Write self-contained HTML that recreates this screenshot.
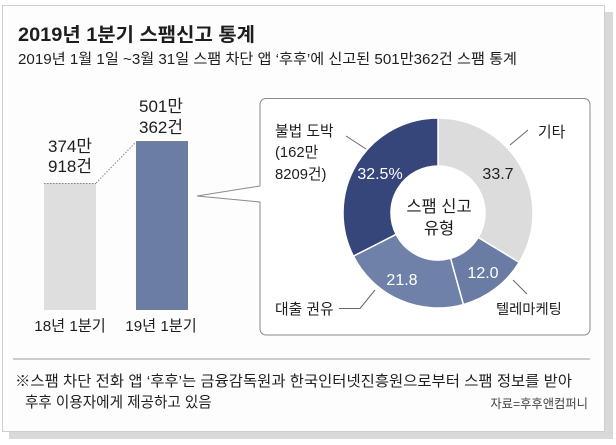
<!DOCTYPE html>
<html><head><meta charset="utf-8">
<style>
html,body{margin:0;padding:0;background:#fff;}
body{width:616px;height:445px;overflow:hidden;}
svg{display:block;}
text{font-family:"Liberation Sans","Noto Sans CJK KR",sans-serif;fill:#1e1e1e;}
</style></head>
<body>
<svg width="616" height="445" viewBox="0 0 616 445" xmlns="http://www.w3.org/2000/svg">
  <!-- shadow + card -->
  <rect x="9" y="12" width="604" height="427" fill="#d9d9d9"/>
  <rect x="2.5" y="5.5" width="602" height="426" fill="#fdfdfd" stroke="#cfcfcf" stroke-width="1"/>

  <!-- title -->
  <text x="18" y="41" font-size="19" font-weight="bold" textLength="237" lengthAdjust="spacingAndGlyphs">2019년 1분기 스팸신고 통계</text>
  <text x="18" y="64" font-size="14.5" textLength="499" lengthAdjust="spacingAndGlyphs">2019년 1월 1일 ~3월 31일 스팸 차단 앱 ‘후후’에 신고된 501만362건 스팸 통계</text>

  <!-- bars -->
  <rect x="44" y="183" width="52" height="127" fill="#dedede"/>
  <rect x="136" y="141" width="52" height="169" fill="#6b7da3"/>
  <line x1="44" y1="183.5" x2="96" y2="183.5" stroke="#888" stroke-width="1" stroke-dasharray="1.5 1.5"/>
  <line x1="136" y1="141.5" x2="188" y2="141.5" stroke="#888" stroke-width="1" stroke-dasharray="1.5 1.5"/>
  <line x1="96" y1="183" x2="136" y2="142" stroke="#888" stroke-width="1" stroke-dasharray="1.5 1.5"/>

  <text x="70" y="152" font-size="17" text-anchor="middle">374만</text>
  <text x="70" y="172" font-size="17" text-anchor="middle">918건</text>
  <text x="161" y="112" font-size="17" text-anchor="middle">501만</text>
  <text x="161" y="133" font-size="17" text-anchor="middle">362건</text>

  <text x="70" y="331" font-size="15.2" text-anchor="middle">18년 1분기</text>
  <text x="161" y="331" font-size="15.2" text-anchor="middle">19년 1분기</text>

  <!-- callout box -->
  <path d="M266,98.5 H584 A6,6 0 0 1 590,104.5 V329 A6,6 0 0 1 584,335 H266 A6,6 0 0 1 260,329 V202 L197,196 L260,186 V104.5 A6,6 0 0 1 266,98.5 Z" fill="#ffffff" stroke="#8a8a8a" stroke-width="1"/>

  <!-- donut -->
  <g stroke="#ffffff" stroke-width="1.5" stroke-linejoin="round">
    <path d="M438,118 A95,95 0 0 1 519.17,262.37 L478.16,237.43 A47,47 0 0 0 438,166 Z" fill="#dcdcdc"/>
    <path d="M519.17,262.37 A95,95 0 0 1 463.36,304.55 L450.54,258.29 A47,47 0 0 0 478.16,237.43 Z" fill="#6a7ca3"/>
    <path d="M463.36,304.55 A95,95 0 0 1 353.35,256.13 L396.12,234.34 A47,47 0 0 0 450.54,258.29 Z" fill="#6f81a8"/>
    <path d="M353.35,256.13 A95,95 0 0 1 438,118 L438,166 A47,47 0 0 0 396.12,234.34 Z" fill="#36467b"/>
  </g>

  <text x="498" y="179" font-size="16" text-anchor="middle">33.7</text>
  <text x="380" y="179" font-size="16" text-anchor="middle" style="fill:#ffffff">32.5%</text>
  <text x="402" y="285" font-size="16" text-anchor="middle" style="fill:#ffffff">21.8</text>
  <text x="483" y="278" font-size="16" text-anchor="middle" style="fill:#ffffff">12.0</text>

  <text x="439" y="212" font-size="16.5" text-anchor="middle">스팸 신고</text>
  <text x="439" y="234" font-size="16.5" text-anchor="middle">유형</text>

  <!-- outer labels -->
  <text x="275" y="136" font-size="14.8">불법 도박</text>
  <text x="275" y="157" font-size="14.8">(162만</text>
  <text x="275" y="179" font-size="14.8">8209건)</text>
  <line x1="346" y1="136" x2="366" y2="149" stroke="#666" stroke-width="1"/>

  <text x="538" y="137" font-size="14.8">기타</text>
  <line x1="510" y1="145" x2="528" y2="130" stroke="#666" stroke-width="1"/>

  <text x="275" y="314" font-size="14.8">대출 권유</text>
  <polyline points="339,308.5 360,308.5 375,290" fill="none" stroke="#666" stroke-width="1"/>

  <text x="496" y="314" font-size="14.3">텔레마케팅</text>
  <line x1="513" y1="280" x2="527" y2="294" stroke="#666" stroke-width="1"/>

  <!-- footer -->
  <line x1="13" y1="359" x2="590" y2="359" stroke="#bdbdbd" stroke-width="1.5"/>
  <text x="15" y="386" font-size="14.6" textLength="557" lengthAdjust="spacingAndGlyphs">※스팸 차단 전화 앱 ‘후후’는 금융감독원과 한국인터넷진흥원으로부터 스팸 정보를 받아</text>
  <text x="25" y="407" font-size="14.6">후후 이용자에게 제공하고 있음</text>
  <text x="588" y="408" font-size="12.3" text-anchor="end" style="fill:#444">자료=후후앤컴퍼니</text>
</svg>
</body></html>
